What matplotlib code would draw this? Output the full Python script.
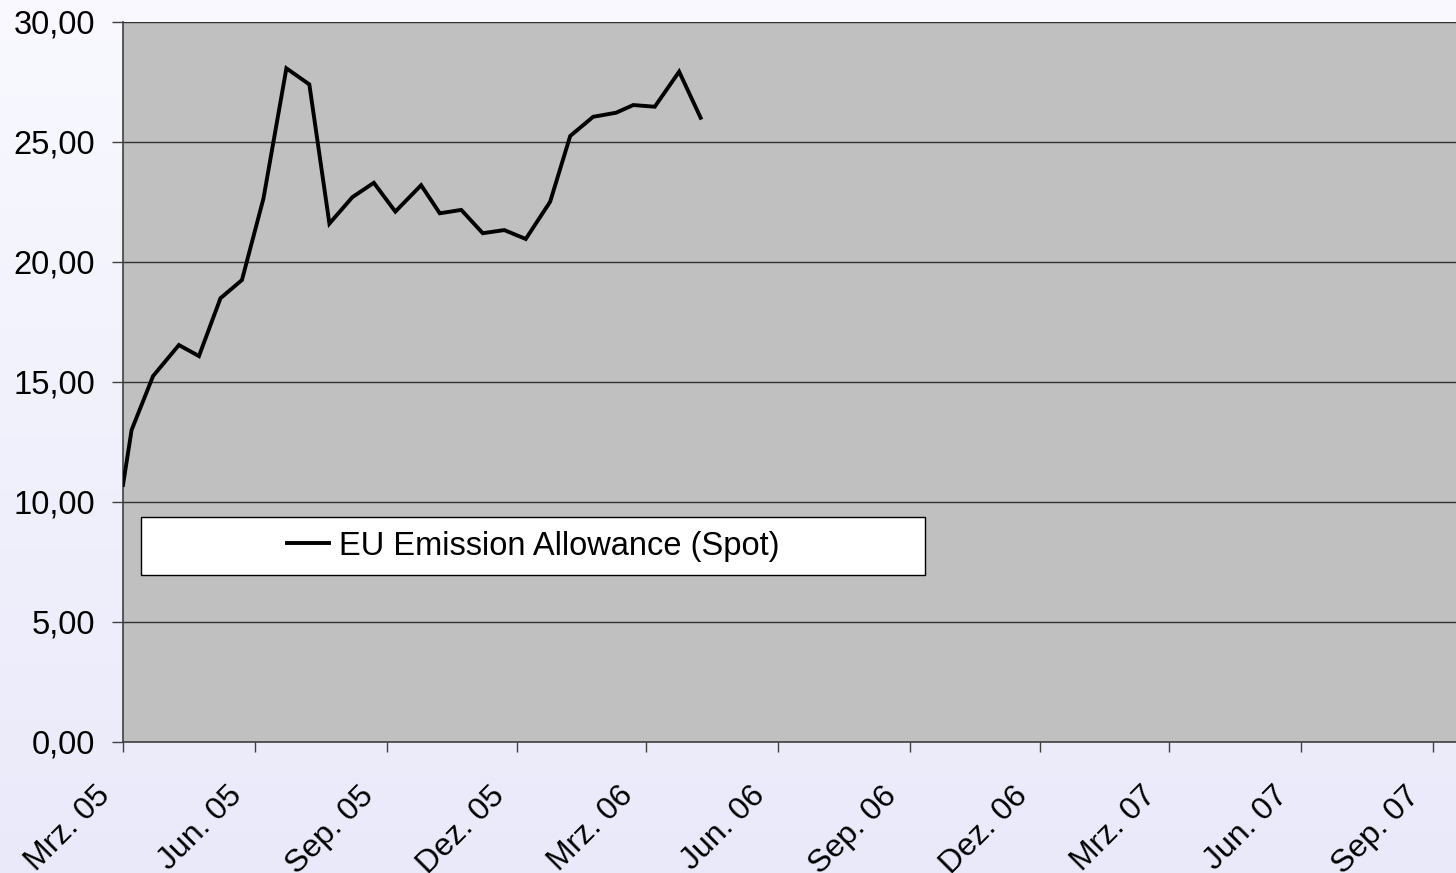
import numpy as np
import pandas as pd
import matplotlib
matplotlib.use("Agg")
import matplotlib.pyplot as plt
import matplotlib.transforms as mtransforms
from matplotlib.patches import Rectangle

plt.rcParams['font.family'] = ['Liberation Sans', 'DejaVu Sans']

# EUA spot price, EUR/t
dates = ["2005-03-01", "2005-03-07", "2005-03-22", "2005-04-09", "2005-04-23",
         "2005-05-08", "2005-05-23", "2005-06-07", "2005-06-23", "2005-07-09",
         "2005-07-23", "2005-08-08", "2005-08-23", "2005-09-07", "2005-09-25",
         "2005-10-08", "2005-10-23", "2005-11-07", "2005-11-22", "2005-12-07",
         "2005-12-24", "2006-01-07", "2006-01-23", "2006-02-08", "2006-02-20",
         "2006-03-07", "2006-03-24", "2006-04-08"]
prices = [10.71, 13.00, 15.25, 16.54, 16.08, 18.49, 19.25, 22.65, 28.07, 27.40,
          21.60, 22.70, 23.30, 22.10, 23.20, 22.03, 22.17, 21.20, 21.33, 20.96,
          22.51, 25.25, 26.05, 26.22, 26.54, 26.47, 27.93, 26.01]

tick_dates = ["2005-03-01", "2005-06-01", "2005-09-01", "2005-12-01", "2006-03-01",
              "2006-06-01", "2006-09-01", "2006-12-01", "2007-03-01", "2007-06-01",
              "2007-09-01"]
tick_labels = ["Mrz. 05", "Jun. 05", "Sep. 05", "Dez. 05", "Mrz. 06", "Jun. 06",
               "Sep. 06", "Dez. 06", "Mrz. 07", "Jun. 07", "Sep. 07"]
y_ticks = [0, 5, 10, 15, 20, 25, 30]

x = pd.to_datetime(dates)
xt = pd.to_datetime(tick_dates)

fig = plt.figure(figsize=(14.56, 8.73), dpi=100)

# light lavender gradient background
bg = fig.add_axes([0, 0, 1, 1], zorder=-10)
grad = np.linspace(0, 1, 256).reshape(-1, 1)
top = np.array([0.975, 0.975, 1.0])
bot = np.array([0.915, 0.915, 0.98])
img = top + (bot - top) * grad[:, :, None]
bg.imshow(img, aspect='auto', extent=[0, 1, 0, 1])
bg.axis('off')

ax = fig.add_axes([123 / 1456, 131 / 873, 1333 / 1456, 720 / 873])
ax.set_facecolor('#c0c0c0')
ax.plot(x, prices, color='black', linewidth=2.8, label='EU Emission Allowance (Spot)',
        solid_joinstyle='miter', zorder=3)

ax.set_ylim(0, 30)
ax.set_yticks(y_ticks)
ax.set_yticklabels([f"{v:.2f}".replace('.', ',') for v in y_ticks])
ax.set_xlim(pd.Timestamp("2005-03-01"), pd.Timestamp("2007-09-17"))
ax.set_xticks(xt)
ax.set_xticklabels(tick_labels, rotation=45, ha='right', rotation_mode='anchor')
ax.yaxis.grid(True, color='#303030', linewidth=1)
ax.set_axisbelow(True)

for s in ['top', 'right']:
    ax.spines[s].set_visible(False)
for s in ['left', 'bottom']:
    ax.spines[s].set_color('#404040')
    ax.spines[s].set_linewidth(1.2)
ax.tick_params(axis='both', direction='out', color='#404040', width=1, labelsize=23.5)
ax.tick_params(axis='x', labelsize=23)
ax.tick_params(axis='y', length=8, pad=12)
ax.tick_params(axis='x', length=7, pad=8)

# push the slanted month labels down and left a bit
shift = mtransforms.ScaledTranslation(-28 / 100, -18 / 100, fig.dpi_scale_trans)
for lab in ax.get_xticklabels():
    lab.set_transform(lab.get_transform() + shift)

ax.add_patch(Rectangle((0.0135, 0.232), 0.588, 0.0806, transform=ax.transAxes,
                       facecolor='white', edgecolor='black', linewidth=1, zorder=4))
ax.legend(loc='center', bbox_to_anchor=(0.3076, 0.2722), frameon=False, fontsize=23.5,
          handlelength=1.3, handletextpad=0.3).set_zorder(5)

fig.savefig('out.png', dpi=100)
